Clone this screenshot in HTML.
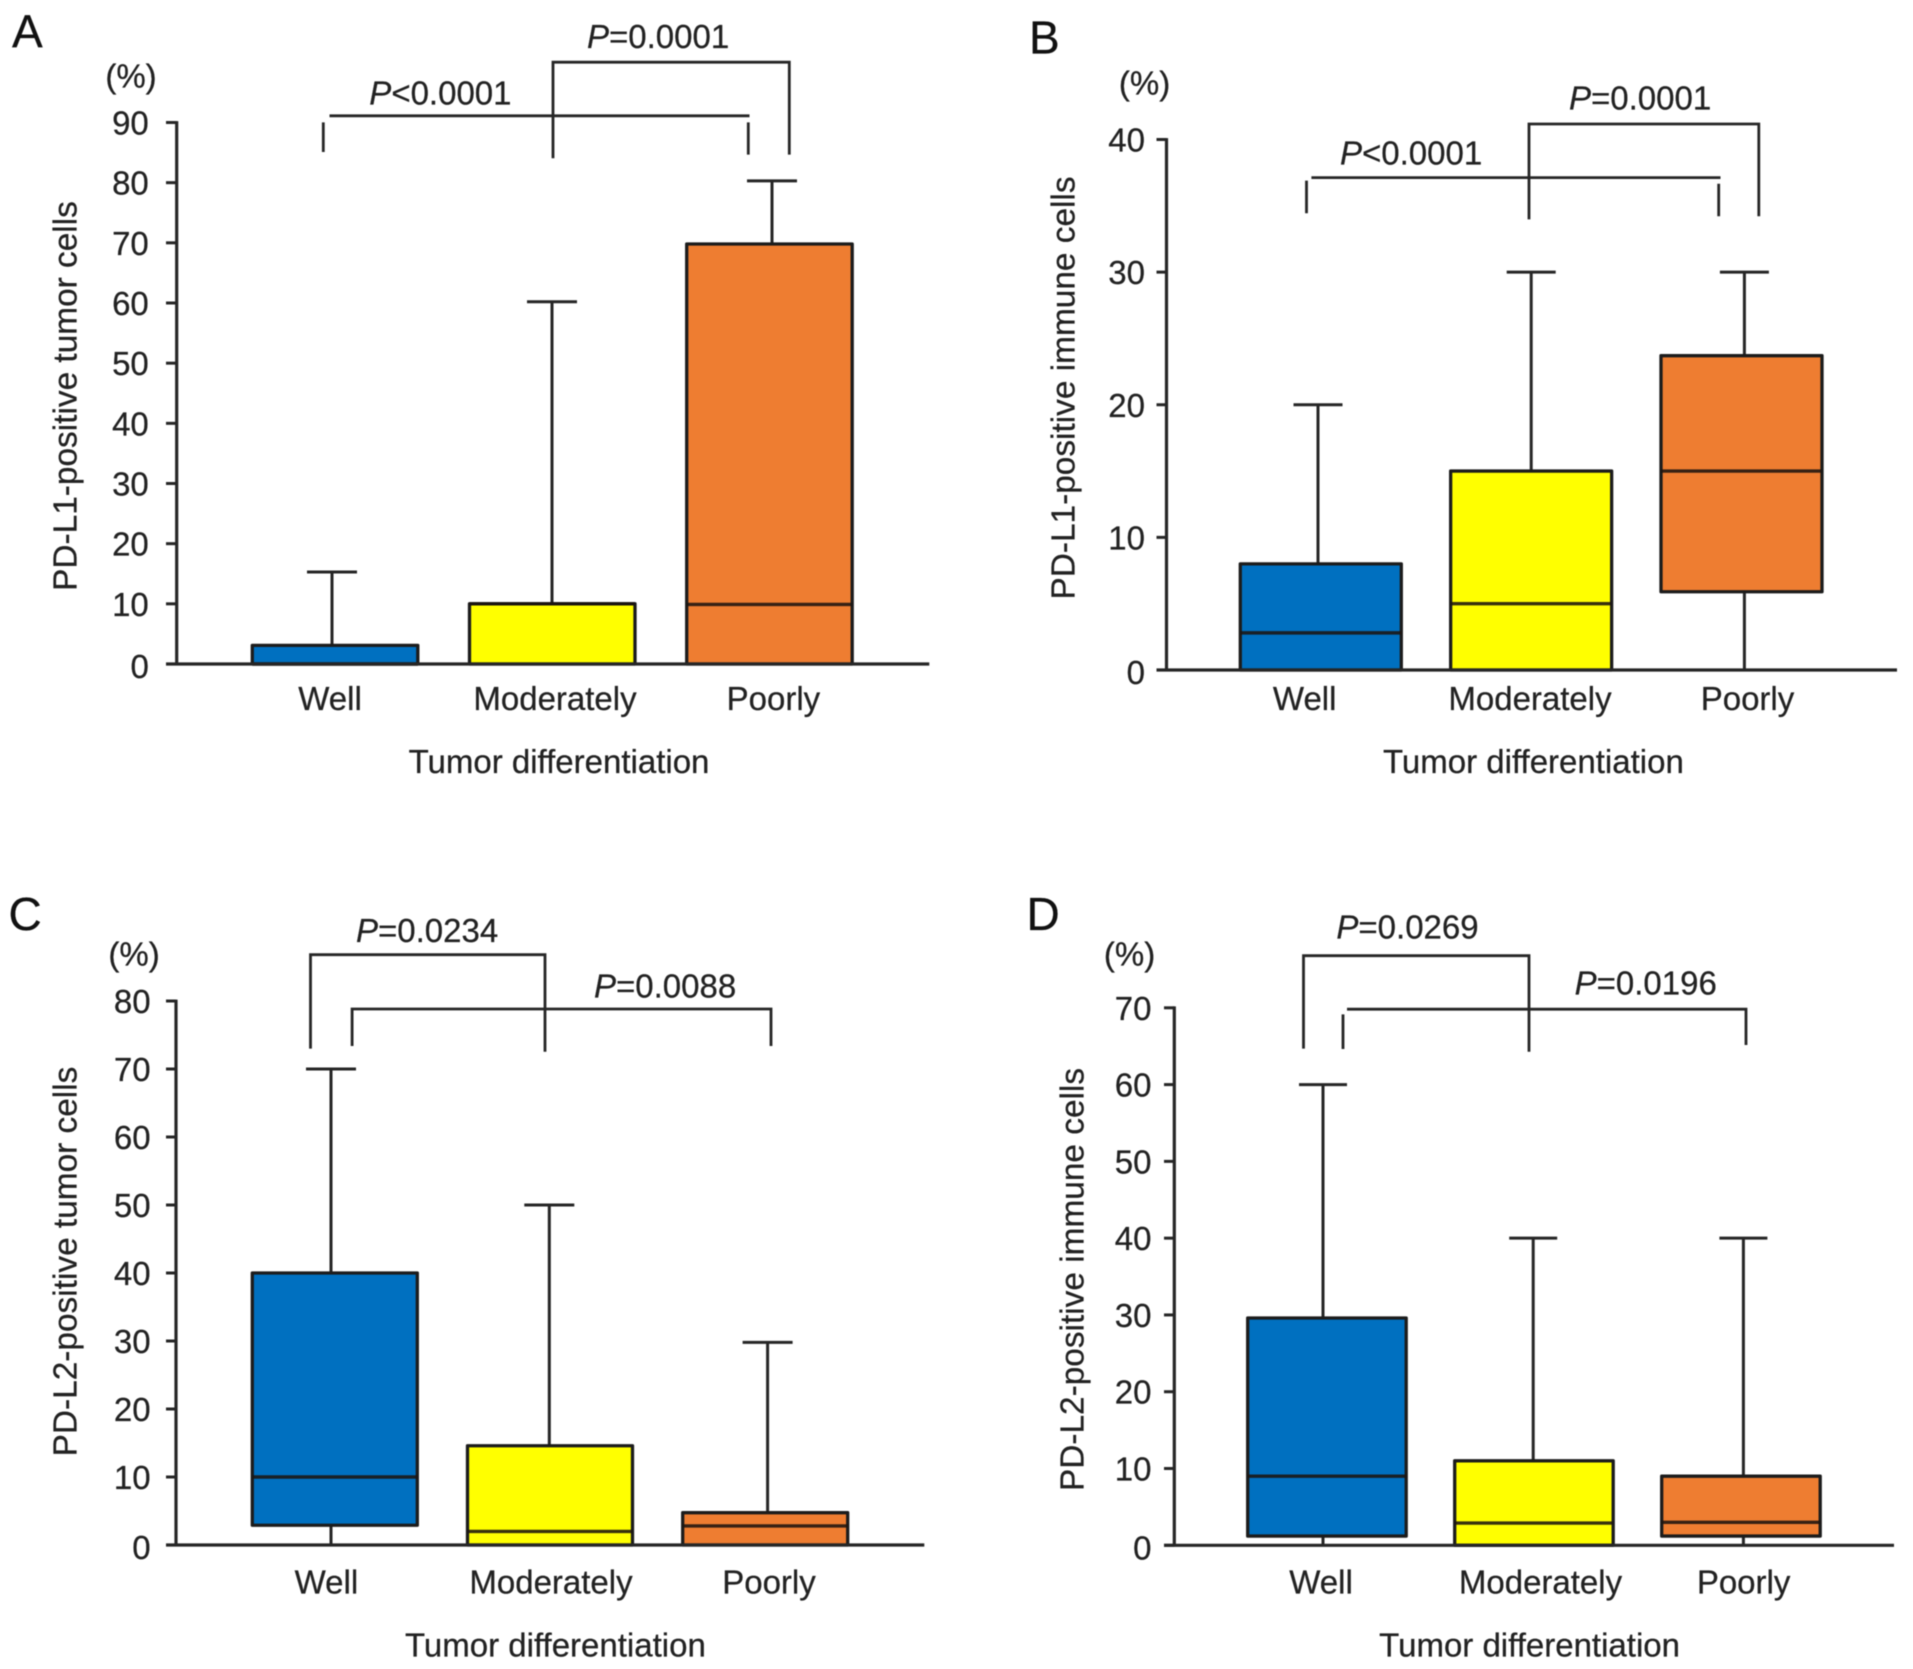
<!DOCTYPE html>
<html lang="en">
<head>
<meta charset="utf-8">
<title>PD-L1 and PD-L2 positivity by tumor differentiation</title>
<style>
html,body{margin:0;padding:0;background:#fff;}
#figure{display:block;filter:blur(0.6px);}
text{font-family:"Liberation Sans",Arial,sans-serif;font-size:33px;fill:#222;stroke:#222;stroke-width:.25;}
.letter{font-size:46px;fill:#111;stroke:#111;}
.ytitle{font-size:33.4px;}
.bracket{fill:none;stroke:#262626;stroke-width:2.8;}
.p{font-style:italic;}
</style>
</head>
<body>
<svg id="figure" xmlns="http://www.w3.org/2000/svg" width="1913" height="1669" viewBox="0 0 1913 1669">
  <rect width="1913" height="1669" fill="#fff"/>

  <g id="panel-a">
    <text class="letter" x="12" y="47.4">A</text>
    <text x="131" y="87.4" text-anchor="middle">(%)</text>
    <text class="ytitle" transform="translate(76.5 396) rotate(-90)" text-anchor="middle">PD-L1-positive tumor cells</text>
    <text x="559" y="773" text-anchor="middle">Tumor differentiation</text>
    <path class="bracket" d="M553 158.2V62.2H789.3V154.6"/>
    <path class="bracket" d="M329.5 115.8H749.5M323.3 122.4V152M748.3 122.4V154.6"/>
    <text x="587" y="48"><tspan class="p">P</tspan>=0.0001</text>
    <text x="369.3" y="104.6"><tspan class="p">P</tspan>&lt;0.0001</text>
  </g>

  <g id="panel-b">
    <text class="letter" x="1029" y="53.6">B</text>
    <text x="1144.6" y="94.6" text-anchor="middle">(%)</text>
    <text class="ytitle" transform="translate(1074.5 388) rotate(-90)" text-anchor="middle">PD-L1-positive immune cells</text>
    <text x="1533.4" y="773" text-anchor="middle">Tumor differentiation</text>
    <path class="bracket" d="M1529 219.4V124H1758.8V216.3"/>
    <path class="bracket" d="M1311.4 177.6H1720.5M1306.5 180.6V213.3M1718.7 183.7V216.3"/>
    <text x="1569" y="109.7"><tspan class="p">P</tspan>=0.0001</text>
    <text x="1340" y="164.3"><tspan class="p">P</tspan>&lt;0.0001</text>
  </g>

  <g id="panel-c">
    <text class="letter" x="8.5" y="930">C</text>
    <text x="134.1" y="965.6" text-anchor="middle">(%)</text>
    <text class="ytitle" transform="translate(76.5 1261.5) rotate(-90)" text-anchor="middle">PD-L2-positive tumor cells</text>
    <text x="555.4" y="1656.5" text-anchor="middle">Tumor differentiation</text>
    <path class="bracket" d="M310.5 1048.6V954.7H545V1051.7"/>
    <path class="bracket" d="M352.1 1046V1009H771V1046"/>
    <text x="356" y="942"><tspan class="p">P</tspan>=0.0234</text>
    <text x="594" y="997.6"><tspan class="p">P</tspan>=0.0088</text>
  </g>

  <g id="panel-d">
    <text class="letter" x="1026.5" y="930">D</text>
    <text x="1129.6" y="965.6" text-anchor="middle">(%)</text>
    <text class="ytitle" transform="translate(1083.6 1279.5) rotate(-90)" text-anchor="middle">PD-L2-positive immune cells</text>
    <text x="1529.6" y="1656.5" text-anchor="middle">Tumor differentiation</text>
    <path class="bracket" d="M1303.5 1048.6V955.7H1529V1051.7"/>
    <path class="bracket" d="M1347 1009.2H1746V1045M1343 1014.4V1049"/>
    <text x="1336.4" y="938.4"><tspan class="p">P</tspan>=0.0269</text>
    <text x="1574.6" y="994.5"><tspan class="p">P</tspan>=0.0196</text>
  </g>
</svg>

<script>
// Shared category labels
const categories = ['Well', 'Moderately', 'Poorly'];

// Panel A: PD-L1-positive tumor cells
const ticksA = [0, 10, 20, 30, 40, 50, 60, 70, 80, 90];
const lowA = [0, 0, 0];
const q1A = [0, 0, 0];
const medianA = [0, 10, 9.9];
const q3A = [3.1, 10, 69.8];
const highA = [15.3, 60.2, 80.3];

// Panel B: PD-L1-positive immune cells
const ticksB = [0, 10, 20, 30, 40];
const lowB = [0, 0, 0];
const q1B = [0, 0, 5.9];
const medianB = [2.8, 5, 15];
const q3B = [8, 15, 23.7];
const highB = [20, 30, 30];

// Panel C: PD-L2-positive tumor cells
const ticksC = [0, 10, 20, 30, 40, 50, 60, 70, 80];
const lowC = [0, 0, 0];
const q1C = [2.9, 0, 0];
const medianC = [10, 2, 2.8];
const q3C = [40, 14.6, 4.75];
const highC = [70, 50, 29.8];

// Panel D: PD-L2-positive immune cells
const ticksD = [0, 10, 20, 30, 40, 50, 60, 70];
const lowD = [0, 0, 0];
const q1D = [1.2, 0, 1.2];
const medianD = [9, 2.9, 3];
const q3D = [29.6, 11, 9];
const highD = [60, 40, 40];

const SVG_NS = 'http://www.w3.org/2000/svg';
const INK = '#262626';
const fills = {Well: '#0070c0', Moderately: '#ffff00', Poorly: '#ee7d31'};

function make(tag, parent, attrs) {
  const el = document.createElementNS(SVG_NS, tag);
  for (const k in attrs) el.setAttribute(k, attrs[k]);
  parent.appendChild(el);
  return el;
}

function drawPanel(key, frame, ticks, low, q1, median, q3, high) {
  const root = document.getElementById('panel-' + key);
  const domainMax = ticks[ticks.length - 1];
  const yScale = v => frame.y0 - v * (frame.y0 - frame.yTop) / domainMax;
  const boxLeft = i => frame.boxX0 + i * frame.boxStep;
  const whiskerX = i => frame.whiskerX0 + i * frame.whiskerStep;

  categories.forEach((cat, i) => {
    const name = 'panel-' + key + '-' + cat.toLowerCase();
    const wx = whiskerX(i);

    const upper = make('line', root, {x1: wx, x2: wx, y1: yScale(q3[i]), y2: yScale(high[i]), stroke: INK, 'stroke-width': 3});
    
    

    const cap = make('line', root, {x1: wx - frame.capHalf, x2: wx + frame.capHalf, y1: yScale(high[i]), y2: yScale(high[i]), stroke: INK, 'stroke-width': 3});
    
    

    const lower = make('line', root, {x1: wx, x2: wx, y1: yScale(q1[i]), y2: yScale(low[i]), stroke: INK, 'stroke-width': 3});
    
    

    const box = make('rect', root, {x: boxLeft(i), y: yScale(q3[i]), width: frame.boxWidth, height: yScale(q1[i]) - yScale(q3[i]), fill: fills[cat], stroke: '#1c1c1c', 'stroke-width': 3.3, 'stroke-linejoin': 'round'});
    
    

    const med = make('line', root, {x1: boxLeft(i), x2: boxLeft(i) + frame.boxWidth, y1: yScale(median[i]), y2: yScale(median[i]), stroke: '#1c1410', 'stroke-width': 3.4, 'stroke-opacity': 0.88});
    
    

    const label = make('text', root, {x: frame.labelX[i], y: frame.labelY, 'text-anchor': 'middle'});
    label.textContent = cat;
    
    
  });

  const yAxis = make('line', root, {x1: frame.axisX, x2: frame.axisX, y1: yScale(domainMax) - 1.4, y2: frame.y0, stroke: INK, 'stroke-width': 3.2});
  
  

  const xAxis = make('line', root, {x1: frame.tickX, x2: frame.xEnd, y1: frame.y0, y2: frame.y0, stroke: INK, 'stroke-width': 3.2});
  
  

  ticks.forEach(t => {
    const tick = make('line', root, {x1: frame.tickX, x2: frame.axisX, y1: yScale(t), y2: yScale(t), stroke: INK, 'stroke-width': 3});
    
    

    const tickLabel = make('text', root, {x: frame.tickLabelX, y: yScale(t) + (t === 0 ? 14 : 12), 'text-anchor': 'end'});
    tickLabel.textContent = String(t);
    
    
  });
}

drawPanel('a', {
  axisX: 176.7, tickX: 166, tickLabelX: 148.8, xEnd: 929.3, y0: 664, yTop: 122.5,
  boxX0: 252.3, boxStep: 217.2, boxWidth: 165.5,
  whiskerX0: 332, whiskerStep: 220, capHalf: 25,
  labelX: [330, 555, 773.4], labelY: 710.2
}, ticksA, lowA, q1A, medianA, q3A, highA);

drawPanel('b', {
  axisX: 1166.5, tickX: 1156.5, tickLabelX: 1145, xEnd: 1897, y0: 670, yTop: 139.5,
  boxX0: 1240.3, boxStep: 210.35, boxWidth: 161,
  whiskerX0: 1318, whiskerStep: 213.2, capHalf: 24.5,
  labelX: [1304.7, 1530, 1747.5], labelY: 710.2
}, ticksB, lowB, q1B, medianB, q3B, highB);

drawPanel('c', {
  axisX: 176, tickX: 166, tickLabelX: 150.6, xEnd: 924.3, y0: 1545, yTop: 1001,
  boxX0: 252.3, boxStep: 215.2, boxWidth: 165,
  whiskerX0: 331, whiskerStep: 218.3, capHalf: 25,
  labelX: [326.4, 551, 769], labelY: 1593.5
}, ticksC, lowC, q1C, medianC, q3C, highC);

drawPanel('d', {
  axisX: 1174.3, tickX: 1164, tickLabelX: 1151.5, xEnd: 1894, y0: 1545.3, yTop: 1007.8,
  boxX0: 1247.7, boxStep: 207, boxWidth: 158.5,
  whiskerX0: 1323, whiskerStep: 210.2, capHalf: 24,
  labelX: [1321, 1540.5, 1743.6], labelY: 1593.5
}, ticksD, lowD, q1D, medianD, q3D, highD);
</script>
</body>
</html>
